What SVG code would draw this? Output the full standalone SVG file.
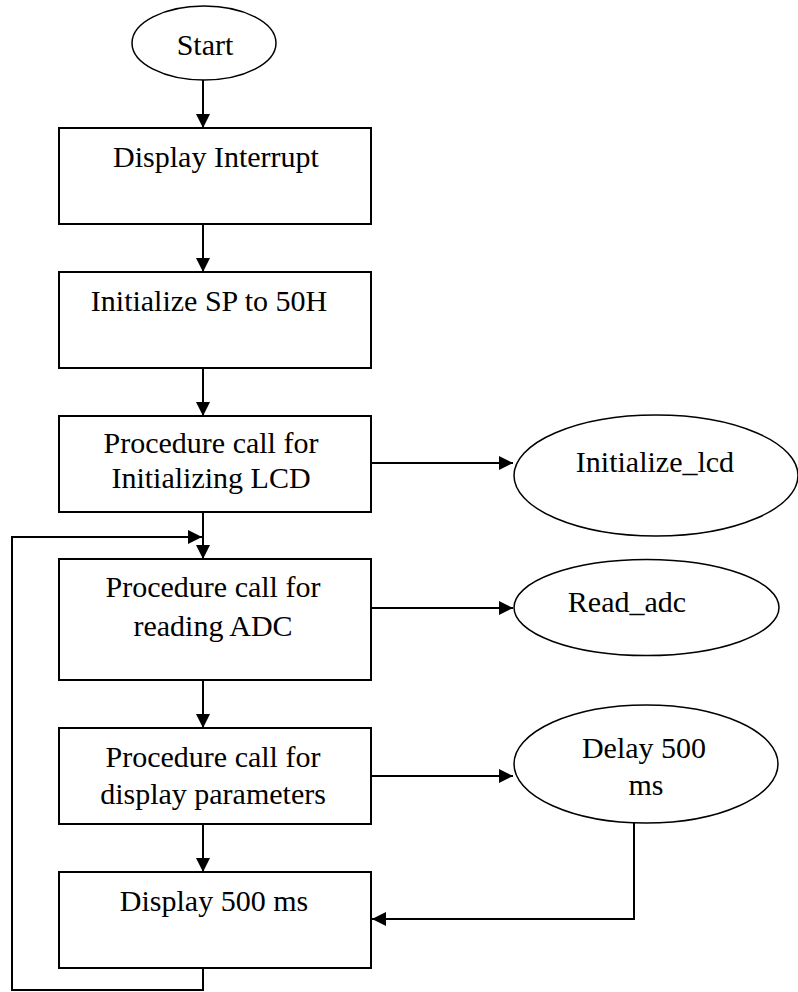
<svg xmlns="http://www.w3.org/2000/svg" width="798" height="992" viewBox="0 0 798 992">
<style>
.box{fill:#fff;stroke:#000;stroke-width:2}
.ell{fill:#fff;stroke:#000;stroke-width:1.5}
text{font-family:'Liberation Serif','Times New Roman',serif;font-size:30px;fill:#000;text-anchor:middle}
.c{fill:none;stroke:#000;stroke-width:2}
</style>
<defs>
<marker id="ah" markerWidth="15" markerHeight="14" refX="14" refY="7" orient="auto" markerUnits="userSpaceOnUse"><path d="M0,0 L14,7 L0,14 z" fill="#000"/></marker>
</defs>
<rect width="798" height="992" fill="#fff"/>
<g id="connectors">
<path class="c" d="M203,80 V128" marker-end="url(#ah)"/>
<path class="c" d="M203,224 V272" marker-end="url(#ah)"/>
<path class="c" d="M203,368 V416" marker-end="url(#ah)"/>
<path class="c" d="M203,512 V559" marker-end="url(#ah)"/>
<path class="c" d="M203,680 V728" marker-end="url(#ah)"/>
<path class="c" d="M203,824 V872" marker-end="url(#ah)"/>
<path class="c" d="M371,463 H513" marker-end="url(#ah)"/>
<path class="c" d="M371,608 H513" marker-end="url(#ah)"/>
<path class="c" d="M371,776 H513" marker-end="url(#ah)"/>
<path class="c" d="M634,823 V919 H372" marker-end="url(#ah)"/>
<path class="c" d="M203,968 V990 H12 V537 H202" marker-end="url(#ah)"/>
</g>
<g id="start"><ellipse class="ell" cx="204" cy="43" rx="72" ry="37"/><text x="205" y="55">Start</text></g>
<g id="display-interrupt"><rect class="box" x="59" y="128" width="312" height="96"/><text x="216" y="167">Display Interrupt</text></g>
<g id="init-sp"><rect class="box" x="59" y="272" width="312" height="96"/><text x="209" y="311">Initialize SP to 50H</text></g>
<g id="proc-lcd"><rect class="box" x="59" y="416" width="312" height="96"/><text x="211" y="453">Procedure call for</text><text x="211" y="488">Initializing LCD</text></g>
<g id="proc-adc"><rect class="box" x="59" y="559" width="312" height="121"/><text x="213" y="597">Procedure call for</text><text x="213" y="636">reading ADC</text></g>
<g id="proc-disp"><rect class="box" x="59" y="728" width="312" height="96"/><text x="213" y="767">Procedure call for</text><text x="213" y="804">display parameters</text></g>
<g id="display-500"><rect class="box" x="59" y="872" width="312" height="96"/><text x="214" y="911">Display 500 ms</text></g>
<g id="initialize-lcd"><ellipse class="ell" cx="656" cy="475.5" rx="142" ry="60.5"/><text x="655" y="472">Initialize_lcd</text></g>
<g id="read-adc"><ellipse class="ell" cx="646.5" cy="607.5" rx="132.5" ry="48"/><text x="627" y="612">Read_adc</text></g>
<g id="delay"><ellipse class="ell" cx="646" cy="764" rx="132" ry="59"/><text x="644" y="758">Delay 500</text><text x="646" y="795">ms</text></g>
</svg>
